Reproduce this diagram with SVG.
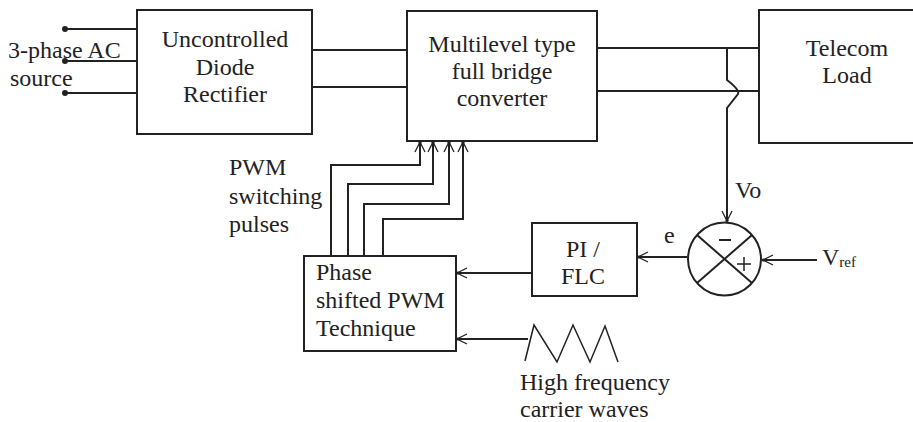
<svg xmlns="http://www.w3.org/2000/svg" width="913" height="422" viewBox="0 0 913 422">
<style>
.box{fill:#fff;stroke:#222;stroke-width:2}
.ln{fill:none;stroke:#222;stroke-width:2}
.t{font-family:"Liberation Serif","Times New Roman",serif;font-size:24px;fill:#222}
.c{text-anchor:middle}
</style>
<defs>
<marker id="ah" viewBox="0 0 12 12" refX="11" refY="6" markerWidth="12" markerHeight="12" markerUnits="userSpaceOnUse" orient="auto">
<path d="M1,1 L11,6 L1,11" fill="none" stroke="#222" stroke-width="1.3"/>
<circle cx="10.5" cy="6" r="1.6" fill="#222"/>
</marker>
</defs>
<rect width="913" height="422" fill="#fff"/>
<g id="connectors">
<line class="ln" x1="65" y1="29" x2="137" y2="29"/>
<line class="ln" x1="65" y1="61" x2="137" y2="61"/>
<line class="ln" x1="65" y1="93" x2="137" y2="93"/>
<circle cx="65" cy="29" r="3" fill="#222"/>
<circle cx="65" cy="61" r="3" fill="#222"/>
<circle cx="65" cy="93" r="3" fill="#222"/>
<line class="ln" x1="312" y1="50" x2="407" y2="50"/>
<line class="ln" x1="312" y1="87" x2="407" y2="87"/>
<line class="ln" x1="597" y1="48" x2="759" y2="48"/>
<line class="ln" x1="597" y1="91" x2="759" y2="91"/>
<path class="ln" d="M727,48 L727,80 Q740,90 738,94 L727,108 L727,221" marker-end="url(#ah)"/>
<path class="ln" d="M331,256 L331,165 L420,165 L420,142" marker-end="url(#ah)"/>
<path class="ln" d="M348,256 L348,184 L433,184 L433,142" marker-end="url(#ah)"/>
<path class="ln" d="M364,256 L364,204 L449,204 L449,142" marker-end="url(#ah)"/>
<path class="ln" d="M383,256 L383,219 L463,219 L463,142" marker-end="url(#ah)"/>
<line class="ln" x1="687" y1="257" x2="638" y2="257" marker-end="url(#ah)"/>
<line class="ln" x1="817" y1="260" x2="763" y2="260" marker-end="url(#ah)"/>
<line class="ln" x1="532" y1="273" x2="457" y2="273" marker-end="url(#ah)"/>
<line class="ln" x1="528" y1="339" x2="457" y2="339" marker-end="url(#ah)"/>
</g>
<g id="source">
<text class="t" x="8" y="58">3-phase AC</text>
<text class="t" x="10" y="86">source</text>
</g>
<g id="rectifier">
<rect class="box" x="137" y="10" width="175" height="124"/>
<text class="t c" x="225" y="47">Uncontrolled</text>
<text class="t c" x="225" y="75">Diode</text>
<text class="t c" x="225" y="102">Rectifier</text>
</g>
<g id="converter">
<rect class="box" x="407" y="11" width="190" height="130"/>
<text class="t c" x="502" y="52">Multilevel type</text>
<text class="t c" x="502" y="79">full bridge</text>
<text class="t c" x="502" y="106">converter</text>
</g>
<g id="load">
<rect class="box" x="759" y="10" width="170" height="133"/>
<text class="t c" x="847" y="56">Telecom</text>
<text class="t c" x="847" y="83">Load</text>
</g>
<g id="pwm-label">
<text class="t" x="229" y="175">PWM</text>
<text class="t" x="229" y="204">switching</text>
<text class="t" x="229" y="232">pulses</text>
</g>
<g id="summing">
<circle cx="724.5" cy="259" r="36.5" fill="#fff" stroke="#222" stroke-width="2"/>
<line class="ln" x1="697" y1="235" x2="752" y2="283"/>
<line class="ln" x1="752" y1="235" x2="697" y2="283"/>
<line class="ln" x1="719" y1="240" x2="731" y2="240"/>
<line x1="737" y1="264" x2="751" y2="264" stroke="#222" stroke-width="1.5"/>
<line x1="744" y1="257" x2="744" y2="271" stroke="#222" stroke-width="1.5"/>
<text class="t" x="735" y="198">Vo</text>
<text class="t" x="664" y="243">e</text>
<text class="t" x="822" y="265">V<tspan font-size="15" dy="2">ref</tspan></text>
</g>
<g id="controller">
<rect class="box" x="532" y="223" width="105" height="73"/>
<text class="t c" x="583" y="257">PI /</text>
<text class="t c" x="583" y="284">FLC</text>
</g>
<g id="pwm">
<rect class="box" x="304" y="256" width="152" height="95"/>
<text class="t" x="316" y="280">Phase</text>
<text class="t" x="316" y="308">shifted PWM</text>
<text class="t" x="316" y="336">Technique</text>
</g>
<g id="carrier">
<path d="M525,361 L534,325 L557,362 L573,325 L590,362 L605,326 L618,362" fill="none" stroke="#222" stroke-width="1.5"/>
<text class="t" x="520" y="390">High frequency</text>
<text class="t" x="520" y="417">carrier waves</text>
</g>
</svg>
